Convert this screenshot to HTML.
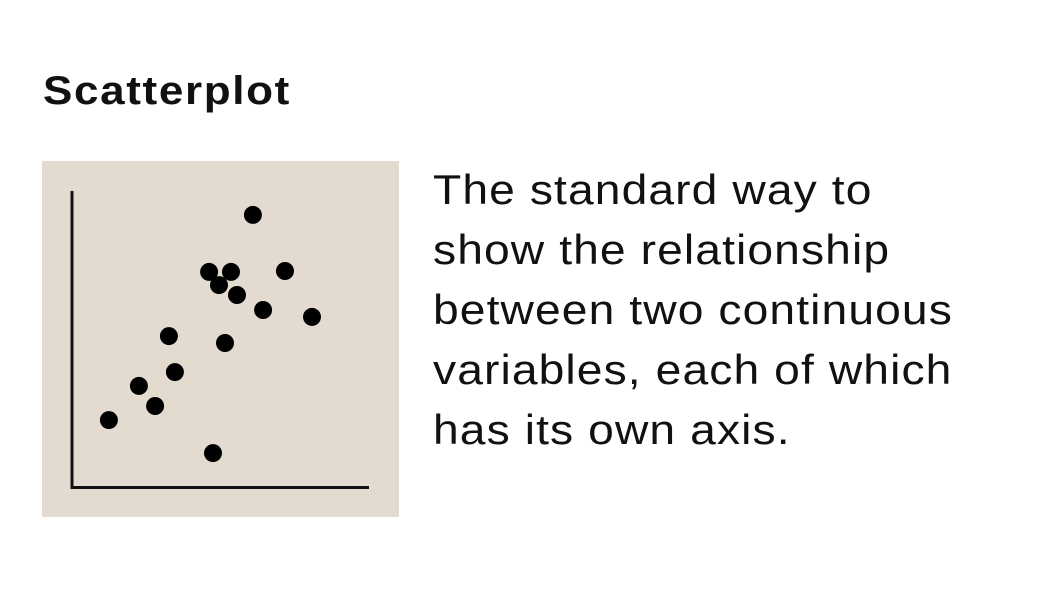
<!DOCTYPE html>
<html><head><meta charset="utf-8"><style>
html,body{margin:0;padding:0;background:#fff;width:1048px;height:612px;overflow:hidden;font-family:"Liberation Sans",sans-serif;}
#title{position:absolute;left:43px;top:66px;font-size:40px;font-weight:bold;color:#111;line-height:50px;letter-spacing:1.5px;transform:scaleX(1.1);transform-origin:0 0;white-space:nowrap;}
#desc{position:absolute;left:433px;top:160px;font-size:42px;line-height:60px;color:#111;letter-spacing:1px;white-space:nowrap;transform:scaleX(1.1);transform-origin:0 0;}
svg{position:absolute;left:0;top:0;}
</style></head><body>
<div id="title">Scatterplot</div>
<div id="desc">The standard way to<br>show the relationship<br>between two continuous<br>variables, each of which<br>has its own axis.</div>
<svg width="1048" height="612">
<rect x="42" y="161" width="357" height="356" fill="#e3dbd0"/>
<line x1="72" y1="191" x2="72" y2="489" stroke="#111" stroke-width="3"/>
<line x1="71" y1="487.5" x2="369" y2="487.5" stroke="#111" stroke-width="3"/>
<g id="dots"></g>
</svg>
<script>
const xValues=[12.3,22.3,27.7,34.3,32.3,47,51,45.7,49,53,55,63.7,71,60.3,80];
const yValues=[22.3,33.7,27,38.3,50.3,11.3,48,71.7,67.3,71.7,64,59,72,90.7,56.7];
function xScale(v){return 72+v*3;}
function yScale(v){return 487-v*3;}
const g=document.getElementById('dots');
for(let i=0;i<xValues.length;i++){
  const c=document.createElementNS('http://www.w3.org/2000/svg','circle');
  c.setAttribute('cx',xScale(xValues[i]));
  c.setAttribute('cy',yScale(yValues[i]));
  c.setAttribute('r',9);
  c.setAttribute('fill','#000');
  
  
  g.appendChild(c);
}
</script>
</body></html>
